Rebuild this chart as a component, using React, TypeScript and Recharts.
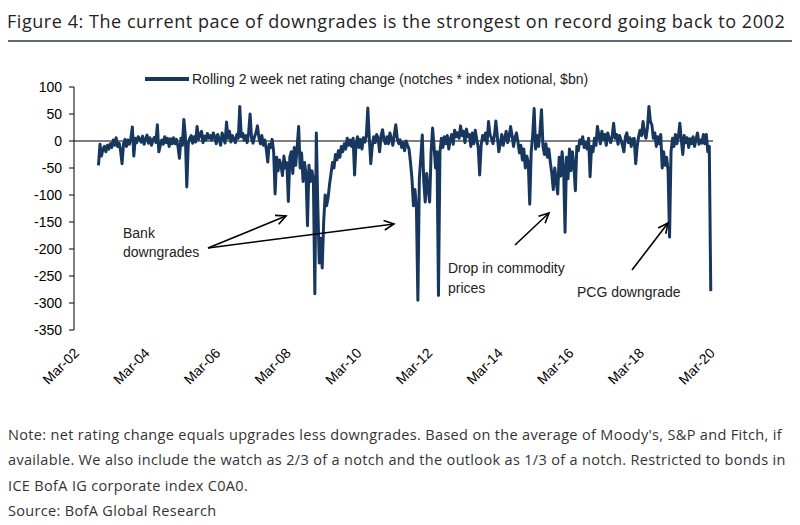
import React from 'react';
import { LineChart, Line, XAxis, YAxis, ReferenceLine } from 'recharts';

// rolling 2 week net rating change ($bn), read roughly twice a month
// 2002 starts in November (half-month slot 20)
const v2002 = [-45, -6, -28, -15];
const v2003 = [-10, -20, -8, -15, -5, -12, 2, -8, 6, -10, -4, -18, -42, -5, 3, -10, 2, -6, 5, 26, -28, 5, -3, 8];
const v2004 = [4, -2, 9, -6, 3, 11, -4, 6, -8, 2, 7, -3, 30, -20, -8, 2, -6, 8, -3, 5, -10, 4, -5, 6];
const v2005 = [-5, 3, -10, -32, 5, -8, 40, 10, -85, -5, 5, 10, -4, 8, -2, 27, 3, 12, 18, -3, 9, 2, 14, 5];
const v2006 = [10, 2, 15, 8, -5, 12, 3, -8, 15, 6, -4, 35, 5, 18, -2, 10, 4, -3, 12, 5, 64, 8, 14, 2];
const v2007 = [10, -3, 15, 50, 5, -4, 8, 15, 28, 6, -5, 10, -8, 2, -15, -39, -6, -12, 3, -20, -98, -30, -55, -35];
const v2008 = [-45, -64, -28, -50, -40, -112, -30, -20, -60, -12, -45, -10, 27, -50, -22, -75, -40, -60, -157, -45, -75, -55, -70, -283];
const v2009 = [15, -120, -226, -180, -235, -150, -100, -120, -105, -80, -60, -40, -50, -25, -35, -18, -30, -10, -20, -5, -15, 5, -8, 2];
const v2010 = [-10, 5, -63, -5, 8, -12, 3, -15, 6, -2, 10, 61, 5, -42, -10, 8, -3, 12, 5, -20, 10, 21, 2, -5];
const v2011 = [8, -5, 15, 3, -8, 12, 30, 5, -5, 2, -12, -3, -18, 0, -8, -15, -40, -70, -120, -90, -120, -295, -70, -30];
const v2012 = [11, -75, -113, -60, -90, -113, -20, 24, -10, -50, -20, -286, -20, 5, -12, 8, -5, 10, -15, 3, 12, -6, 20, 8];
const v2013 = [15, 5, 28, 10, 18, -3, 22, 8, 12, -10, 15, -5, 20, 3, -12, -63, -8, 10, 2, 15, -5, 36, 12, 5];
const v2014 = [-5, 10, 37, 8, -20, -5, 12, -8, 5, 18, -3, 8, 27, 10, -10, 6, 15, -2, -22, -8, -35, -15, -50, -28];
const v2015 = [-40, -117, -20, 10, 60, -15, 10, -10, 20, 58, -10, -25, -5, -30, -15, -40, -60, -90, -50, -75, -98, -30, -65, -20];
const v2016 = [-50, -169, -30, -70, -15, -55, -20, -45, -92, -10, -18, 2, -5, 8, -12, -3, -15, 5, -66, -10, -20, 5, -8, 27];
const v2017 = [10, -5, 18, 3, 12, -8, 15, 5, -3, 8, 33, 5, 12, -6, 10, 2, -8, -20, 8, 15, -3, 6, -10, 4];
const v2018 = [5, -42, -10, 8, 20, 10, 36, 15, 5, 25, 64, 36, 30, 5, 15, -10, 8, -5, 12, -50, -20, -45, -30, -55];
const v2019 = [-178, -20, 5, -10, 12, -5, 8, 33, 2, -25, 10, -3, 6, -12, 4, -5, 8, -10, 3, 15, -6, 2, -4, 12];
const v2020 = [-5, 12, -20, -10, -278];

const years: [number, number[], number][] = [
  [2002, v2002, 20], [2003, v2003, 0], [2004, v2004, 0], [2005, v2005, 0],
  [2006, v2006, 0], [2007, v2007, 0], [2008, v2008, 0], [2009, v2009, 0],
  [2010, v2010, 0], [2011, v2011, 0], [2012, v2012, 0], [2013, v2013, 0],
  [2014, v2014, 0], [2015, v2015, 0], [2016, v2016, 0], [2017, v2017, 0],
  [2018, v2018, 0], [2019, v2019, 0], [2020, v2020, 0],
];

const tickYears = [2002, 2004, 2006, 2008, 2010, 2012, 2014, 2016, 2018, 2020];
const tickLabels = ['Mar-02', 'Mar-04', 'Mar-06', 'Mar-08', 'Mar-10', 'Mar-12', 'Mar-14', 'Mar-16', 'Mar-18', 'Mar-20'];
const yTicks = [100, 50, 0, -50, -100, -150, -200, -250, -300, -350];

const data = years.flatMap(([yr, vals, start]) =>
  vals.map((v, k) => ({ t: yr + (start + k) / 24, v }))
);
const tickDates = tickYears.map((y) => y + 2 / 12);

const NAVY = '#17375E';
const ARIAL = '"Liberation Sans", Arial, sans-serif';
const OPEN = '"Open Sans", "Noto Sans", sans-serif';

const MonthTick = (props: any) => {
  const { x, y, payload } = props;
  const i = tickDates.findIndex((d) => Math.abs(d - payload.value) < 0.01);
  const ax = x + 5;
  const ay = y + 24;
  return (
    <text x={ax} y={ay} textAnchor="end" transform={`rotate(-45 ${ax} ${ay})`}
      fill="#000" fontSize={14} fontFamily={ARIAL}>
      {tickLabels[i]}
    </text>
  );
};

const Arrow = ({ x1, y1, x2, y2 }: { x1: number; y1: number; x2: number; y2: number }) => {
  const a = Math.atan2(y2 - y1, x2 - x1);
  const L = 11;
  const w = 0.45;
  const p1 = `${x2 - L * Math.cos(a - w)},${y2 - L * Math.sin(a - w)}`;
  const p2 = `${x2 - L * Math.cos(a + w)},${y2 - L * Math.sin(a + w)}`;
  return (
    <g stroke="#000" strokeWidth={1.6} fill="none">
      <line x1={x1} y1={y1} x2={x2} y2={y2} />
      <polyline points={`${p1} ${x2},${y2} ${p2}`} />
    </g>
  );
};

const noteLines = [
  "Note: net rating change equals upgrades less downgrades. Based on the average of Moody's, S&P and Fitch, if",
  'available. We also include the watch as 2/3 of a notch and the outlook as 1/3 of a notch. Restricted to bonds in',
  'ICE BofA IG corporate index C0A0.',
  'Source: BofA Global Research',
];

const App = () => {
  return (
    <div style={{ position: 'relative', width: 800, height: 525, margin: -8, background: '#fff', overflow: 'hidden' }}>
      <div style={{ position: 'absolute', left: 7, top: 9, fontFamily: OPEN, fontSize: 18, letterSpacing: 0.55, lineHeight: '24px', color: '#222', whiteSpace: 'nowrap' }}>
        Figure 4: The current pace of downgrades is the strongest on record going back to 2002
      </div>
      <div style={{ position: 'absolute', left: 0, top: 40, width: 800, height: 2, background: '#5a6a7a' }} />

      <div style={{ position: 'absolute', left: 0, top: 0 }}>
        <LineChart width={800} height={525} data={data} margin={{ top: 87, right: 87, left: 34, bottom: 135 }}>
          <XAxis dataKey="t" type="number" domain={[2002.14, 2020.23]} ticks={tickDates} interval={0}
            axisLine={false} tickLine={false} tickSize={0} tickMargin={0} height={60} tick={<MonthTick />} />
          <YAxis domain={[-350, 100]} ticks={yTicks} interval={0} width={40}
            axisLine={{ stroke: '#000' }} tickLine={{ stroke: '#000' }} tickSize={5} tickMargin={7}
            tick={{ fill: '#000', fontSize: 14, fontFamily: ARIAL }} />
          <ReferenceLine y={0} stroke="#000" strokeWidth={1} />
          <Line type="linear" dataKey="v" stroke={NAVY} strokeWidth={3} dot={false}
            strokeLinejoin="round" isAnimationActive={false} />
        </LineChart>
      </div>

      <svg width={800} height={525} style={{ position: 'absolute', left: 0, top: 0, pointerEvents: 'none' }}>
        <line x1={145} y1={79} x2={189} y2={79} stroke={NAVY} strokeWidth={4} />
        <text x={192} y={84} fontFamily={ARIAL} fontSize={14} fill="#222">
          Rolling 2 week net rating change (notches * index notional, $bn)
        </text>

        <g fontFamily={ARIAL} fontSize={14} fill="#222">
          <text x={123} y={238}>Bank</text>
          <text x={123} y={257}>downgrades</text>
          <text x={448} y={273}>Drop in commodity</text>
          <text x={448} y={293}>prices</text>
          <text x={577} y={297}>PCG downgrade</text>
        </g>
        <Arrow x1={208} y1={248} x2={286} y2={216} />
        <Arrow x1={208} y1={248} x2={394} y2={224} />
        <Arrow x1={515} y1={245} x2={549} y2={213} />
        <Arrow x1={632} y1={270} x2={668} y2={223} />
      </svg>

      {noteLines.map((line, i) => (
        <div key={i} style={{ position: 'absolute', left: 8, top: 425 + i * 25.3, fontFamily: OPEN, fontSize: 14.5, letterSpacing: 0.33, lineHeight: '19px', color: '#333', whiteSpace: 'nowrap' }}>
          {line}
        </div>
      ))}
    </div>
  );
};

export default App;
